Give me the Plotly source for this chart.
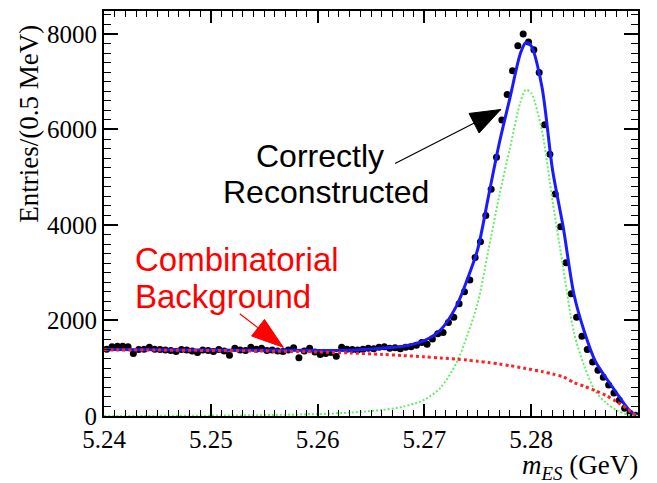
import math
import plotly.graph_objects as go

# ---- data ----
bin_lo = 5.24
bin_w = 0.0005
counts = [
    1400, 1450, 1460, 1460, 1450, 1310, 1390, 1400, 1440, 1400,
    1390, 1380, 1370, 1350, 1390, 1380, 1360, 1330, 1380, 1370,
    1350, 1390, 1360, 1270, 1420, 1380, 1370, 1440, 1400, 1420,
    1370, 1380, 1360, 1350, 1380, 1430, 1220, 1360, 1420, 1340,
    1290, 1310, 1330, 1250, 1440, 1400, 1390, 1380, 1400, 1420,
    1410, 1440, 1450, 1420, 1430, 1410, 1440, 1450, 1480, 1540,
    1500, 1610, 1720, 1750, 1960, 2070, 2350, 2600, 2850, 3320,
    3650, 4200, 4750, 5420, 6200, 6730, 7230, 7750, 8000, 7830,
    7670, 7190, 6100, 5480, 4650, 3960, 3210, 2560, 2070, 1670,
    1390, 1130, 960, 810, 650, 480, 330, 160, 60, 15,
]
bin_centers = [round(bin_lo + bin_w * (i + 0.5), 5) for i in range(len(counts))]

curve_x = [5.240, 5.245, 5.250, 5.255, 5.260, 5.263, 5.266, 5.268, 5.270, 5.2715,
           5.273, 5.274, 5.275, 5.276, 5.277, 5.278, 5.279, 5.2795, 5.280, 5.281,
           5.282, 5.283, 5.284, 5.285, 5.286, 5.287, 5.288, 5.289, 5.2895, 5.290]
total_fit = [1390, 1385, 1380, 1376, 1374, 1378, 1420, 1460, 1580, 1800,
             2300, 2850, 3500, 4600, 5700, 6650, 7600, 7820, 7750, 6900,
             5150, 3950, 2550, 1750, 1150, 800, 480, 170, 60, 0]
signal_fit = [0, 3, 8, 18, 40, 70, 125, 195, 340, 590,
              1110, 1680, 2370, 3480, 4600, 5600, 6580, 6830, 6760, 5980,
              4500, 3100, 1750, 1030, 520, 280, 120, 30, 10, 0]
background_fit = [1385, 1380, 1372, 1360, 1340, 1320, 1290, 1265, 1240, 1215,
                  1190, 1170, 1145, 1120, 1090, 1055, 1015, 995, 975, 930,
                  880, 820, 700, 620, 530, 430, 300, 150, 60, 0]

x_range = [5.24, 5.29]
y_range = [0, 8480]
x_ticks = [5.24, 5.25, 5.26, 5.27, 5.28, 5.29]
x_tick_text = ["5.24", "5.25", "5.26", "5.27", "5.28", "5.29"]
y_ticks = [0, 2000, 4000, 6000, 8000]
y_tick_text = ["0", "2000", "4000", "6000", "8000"]

# annotation arrows: (tail, tip) in data coordinates
signal_arrow = dict(tail=(5.26711, 5270), tip=(5.27715, 6417), color="black")
bkg_arrow = dict(tail=(5.25257, 2167), tip=(5.25679, 1437), color="red")

SERIF = "Liberation Serif"
SANS = "Liberation Sans"

W, H = 657, 483
M = dict(l=104, r=19, t=9, b=67)
plot_w = W - M["l"] - M["r"]
plot_h = H - M["t"] - M["b"]
px_x = plot_w / (x_range[1] - x_range[0])
px_y = plot_h / (y_range[1] - y_range[0])

fig = go.Figure()
fig.add_trace(go.Scatter(x=bin_centers, y=counts, mode="markers",
                         marker=dict(color="black", size=7), showlegend=False))
fig.add_trace(go.Scatter(x=curve_x, y=total_fit, mode="lines",
                         line=dict(color="#1a1aff", width=3, shape="spline", smoothing=0.8),
                         showlegend=False))
fig.add_trace(go.Scatter(x=curve_x, y=signal_fit, mode="lines",
                         line=dict(color="#66ee66", width=2, dash="2px,2px", shape="spline", smoothing=0.8),
                         showlegend=False))
fig.add_trace(go.Scatter(x=curve_x, y=background_fit, mode="lines",
                         line=dict(color="#ff2222", width=3, dash="3px,3px", shape="spline", smoothing=0.8),
                         showlegend=False))

axis_common = dict(showline=True, linecolor="black", linewidth=2, mirror="allticks",
                   ticks="inside", tickcolor="black", tickwidth=1.5, showgrid=False,
                   zeroline=False, tickfont=dict(family=SERIF, size=25, color="black"))

fig.update_xaxes(range=x_range, tickvals=x_ticks, ticktext=x_tick_text, ticklen=12,
                 minor=dict(dtick=0.001, tick0=5.24, ticklen=6, ticks="inside", tickcolor="black", tickwidth=1.2),
                 **axis_common)
fig.update_yaxes(range=y_range, tickvals=y_ticks, ticktext=y_tick_text, ticklen=14,
                 minor=dict(dtick=200, tick0=0, ticklen=7, ticks="inside", tickcolor="black", tickwidth=1.2),
                 **axis_common)

ann = []
ann.append(dict(text="<i>m</i><sub><i>ES</i></sub> (GeV)", xref="paper", yref="paper",
                x=1.0, y=-0.125, xanchor="right", yanchor="middle", showarrow=False,
                borderpad=0, borderwidth=0,
                font=dict(family=SERIF, size=27, color="black")))
ann.append(dict(text="Entries/(0.5 MeV)", xref="paper", yref="paper", textangle=-90,
                x=-0.142, y=0.722, xanchor="center", yanchor="middle", showarrow=False,
                font=dict(family=SERIF, size=27, color="black")))
ann.append(dict(text="Correctly", x=5.26026, y=5437, xanchor="center", yanchor="middle",
                showarrow=False, font=dict(family=SANS, size=32, color="black")))
ann.append(dict(text="Reconstructed", x=5.26083, y=4687, xanchor="center", yanchor="middle",
                showarrow=False, font=dict(family=SANS, size=32, color="black")))
ann.append(dict(text="Combinatorial", x=5.24272, y=3271, xanchor="left", yanchor="middle",
                showarrow=False, font=dict(family=SANS, size=33, color="red")))
ann.append(dict(text="Background", x=5.24272, y=2500, xanchor="left", yanchor="middle",
                showarrow=False, font=dict(family=SANS, size=33, color="red")))

shapes = []
for arr, head_len, head_w in ((signal_arrow, 30, 22), (bkg_arrow, 32, 21)):
    (tx, ty), (hx, hy) = arr["tail"], arr["tip"]
    ann.append(dict(text="", x=hx, y=hy, ax=tx, ay=ty, axref="x", ayref="y",
                    showarrow=True, arrowhead=0, arrowwidth=1.2, arrowcolor=arr["color"],
                    standoff=0, startstandoff=0))
    dx = (hx - tx) * px_x
    dy = (hy - ty) * px_y
    n = math.hypot(dx, dy)
    ux, uy = dx / n, dy / n
    pxp, pyp = -uy, ux
    b1 = (-head_len * ux + head_w / 2 * pxp, -head_len * uy + head_w / 2 * pyp)
    b2 = (-head_len * ux - head_w / 2 * pxp, -head_len * uy - head_w / 2 * pyp)
    path = "M 0,0 L {:.2f},{:.2f} L {:.2f},{:.2f} Z".format(b1[0], b1[1], b2[0], b2[1])
    shapes.append(dict(type="path", xref="x", yref="y", xsizemode="pixel", ysizemode="pixel",
                       xanchor=hx, yanchor=hy, path=path, fillcolor=arr["color"],
                       line=dict(color=arr["color"], width=1), layer="above"))

fig.update_layout(width=W, height=H, margin=M, plot_bgcolor="white", paper_bgcolor="white",
                  annotations=ann, shapes=shapes)

fig.write_html("out.html")
